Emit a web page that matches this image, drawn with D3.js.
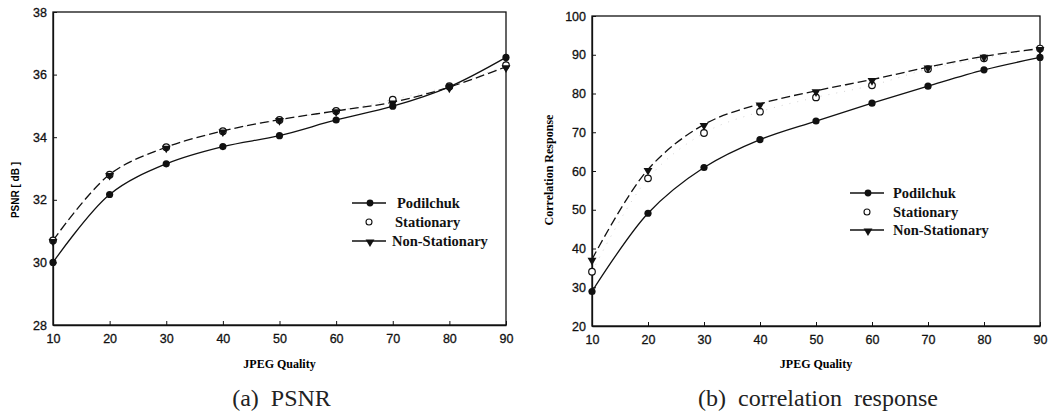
<!DOCTYPE html>
<html>
<head>
<meta charset="UTF-8">
<script src="https://d3js.org/d3.v7.min.js"></script>
<style>
  body { margin: 0; background: #fff; }
  svg { display: block; }
</style>
</head>
<body>
<div id="chart"></div>
<script>
const quality = [10, 20, 30, 40, 50, 60, 70, 80, 90];

// (a) PSNR [dB]
const psnrPodilchuk = [30.0, 32.17, 33.15, 33.7, 34.05, 34.55, 34.99, 35.61, 36.55];
const psnrStationary = [30.7, 32.8, 33.68, 34.19, 34.55, 34.84, 35.2, 35.63, 36.3];
const psnrNonStationary = [30.7, 32.81, 33.68, 34.2, 34.56, 34.84, 35.12, 35.6, 36.25];

// (b) correlation response
const corrPodilchuk = [28.9, 49.1, 60.9, 68.1, 72.9, 77.5, 81.9, 86.1, 89.3];
const corrStationary = [34.0, 58.1, 69.8, 75.3, 79.0, 82.1, 86.3, 89.1, 91.6];
const corrNonStationary = [37.2, 60.4, 72.0, 77.3, 80.7, 83.6, 86.8, 89.6, 91.6];

const psnrTicks = [28, 30, 32, 34, 36, 38];
const corrTicks = [20, 30, 40, 50, 60, 70, 80, 90, 100];
const legendNames = ["Podilchuk", "Stationary", "Non-Stationary"];

const width = 1051, height = 413;

const svg = d3.select("#chart").append("svg")
  .attr("width", width)
  .attr("height", height);

const panels = [
  {
    left: 53, right: 506, top: 12, bottom: 325,
    domain: [28, 38], ticks: psnrTicks,
    series: [psnrPodilchuk, psnrStationary, psnrNonStationary],
    ylabel: "PSNR [ dB ]", ylabelFont: "'Liberation Sans', Arial, sans-serif",
    ylabelSize: 10, ylabelX: 15, ylabelY: 190,
    legendX: 352, legendY: [203, 222, 241], legendText: [397, 395, 392],
    caption: "(a)  PSNR"
  },
  {
    left: 592, right: 1040, top: 16, bottom: 326,
    domain: [20, 100], ticks: corrTicks,
    series: [corrPodilchuk, corrStationary, corrNonStationary],
    ylabel: "Correlation Response", ylabelFont: "'Liberation Serif', 'Times New Roman', serif",
    ylabelSize: 12, ylabelX: 549, ylabelY: 170,
    legendX: 850, legendY: [193, 212, 230], legendText: [893, 893, 893],
    caption: "(b)  correlation  response"
  }
];

const triangle = d3.symbol().type(d3.symbolTriangle).size(34);

function drawTri(g, cx, cy) {
  g.append("path")
    .attr("d", triangle())
    .attr("transform", `translate(${cx},${cy}) rotate(180)`)
    .attr("fill", "#111");
}

panels.forEach(p => {
  const x = d3.scaleLinear().domain([10, 90]).range([p.left, p.right]);
  const y = d3.scaleLinear().domain(p.domain).range([p.bottom, p.top]);
  const g = svg.append("g");

  // frame
  g.append("rect")
    .attr("x", p.left).attr("y", p.top)
    .attr("width", p.right - p.left).attr("height", p.bottom - p.top)
    .attr("fill", "none").attr("stroke", "#111").attr("stroke-width", 1.3);

  const xAxis = d3.axisBottom(x).tickValues(quality).tickSize(-4).tickSizeOuter(0).tickPadding(9);
  const yAxis = d3.axisLeft(y).tickValues(p.ticks).tickSize(-4).tickSizeOuter(0).tickPadding(6);

  const gx = g.append("g").attr("transform", `translate(0,${p.bottom})`).call(xAxis);
  const gy = g.append("g").attr("transform", `translate(${p.left},0)`).call(yAxis);
  [gx, gy].forEach(a => {
    a.select(".domain").attr("stroke", "#111").attr("stroke-width", 1.3);
    a.selectAll(".tick line").attr("stroke", "#111");
    a.selectAll(".tick text")
      .attr("fill", "#111")
      .attr("stroke", "#111").attr("stroke-width", 0.3)
      .style("font-family", "'Liberation Sans', Arial, sans-serif")
      .style("font-size", "12.5px");
  });

  // axis titles
  g.append("text")
    .attr("x", (p.left + p.right) / 2).attr("y", 368)
    .attr("text-anchor", "middle")
    .style("font-family", "'Liberation Serif', 'Times New Roman', serif")
    .style("font-weight", "bold").style("font-size", "12px")
    .text("JPEG Quality");

  g.append("text")
    .attr("transform", `translate(${p.ylabelX},${p.ylabelY}) rotate(-90)`)
    .attr("text-anchor", "middle").attr("dy", "0.35em")
    .style("font-family", p.ylabelFont)
    .style("font-weight", "bold").style("font-size", p.ylabelSize + "px")
    .text(p.ylabel);

  // caption
  g.append("text")
    .attr("x", (p.left + p.right) / 2 + 2).attr("y", 406)
    .attr("text-anchor", "middle")
    .style("font-family", "'Liberation Serif', 'Times New Roman', serif")
    .style("font-size", "24px")
    .attr("fill", "#222")
    .style("white-space", "pre")
    .text(p.caption);

  const line = d3.line()
    .x((d, i) => x(quality[i]))
    .y(d => y(d))
    .curve(d3.curveCatmullRom.alpha(0.5));

  const [pod, sta, non] = p.series;

  // stationary: faint dotted
  g.append("path").datum(sta).attr("d", line)
    .attr("fill", "none").attr("stroke", "#d4d4d4").attr("stroke-width", 1)
    .attr("stroke-dasharray", "1,7");

  // non-stationary: dashed
  g.append("path").datum(non).attr("d", line)
    .attr("fill", "none").attr("stroke", "#111").attr("stroke-width", 1.3)
    .attr("stroke-dasharray", "9,4");

  // podilchuk: solid
  g.append("path").datum(pod).attr("d", line)
    .attr("fill", "none").attr("stroke", "#111").attr("stroke-width", 1.3);

  sta.forEach((v, i) => {
    g.append("circle").attr("cx", x(quality[i])).attr("cy", y(v)).attr("r", 3.3)
      .attr("fill", "#fff").attr("stroke", "#111").attr("stroke-width", 1.2);
  });
  non.forEach((v, i) => drawTri(g, x(quality[i]), y(v) + 1));
  pod.forEach((v, i) => {
    g.append("circle").attr("cx", x(quality[i])).attr("cy", y(v)).attr("r", 3.6)
      .attr("fill", "#111");
  });

  // legend
  const lx0 = p.legendX, lx1 = p.legendX + 34, mx = p.legendX + 18;
  const ly = p.legendY;
  g.append("line").attr("x1", lx0).attr("x2", lx1).attr("y1", ly[0]).attr("y2", ly[0])
    .attr("stroke", "#111").attr("stroke-width", 1.3);
  g.append("circle").attr("cx", mx).attr("cy", ly[0]).attr("r", 3.4).attr("fill", "#111");
  g.append("circle").attr("cx", mx - 1).attr("cy", ly[1]).attr("r", 3)
    .attr("fill", "#fff").attr("stroke", "#111").attr("stroke-width", 1.1);
  g.append("line").attr("x1", lx0).attr("x2", lx1).attr("y1", ly[2]).attr("y2", ly[2])
    .attr("stroke", "#111").attr("stroke-width", 1.3);
  drawTri(g, mx, ly[2] + 1);

  legendNames.forEach((name, i) => {
    g.append("text")
      .attr("x", p.legendText[i]).attr("y", ly[i]).attr("dy", "0.35em")
      .style("font-family", "'Liberation Serif', 'Times New Roman', serif")
      .style("font-weight", "bold").style("font-size", "14.5px")
      .attr("fill", "#111")
      .text(name);
  });
});
</script>
</body>
</html>
